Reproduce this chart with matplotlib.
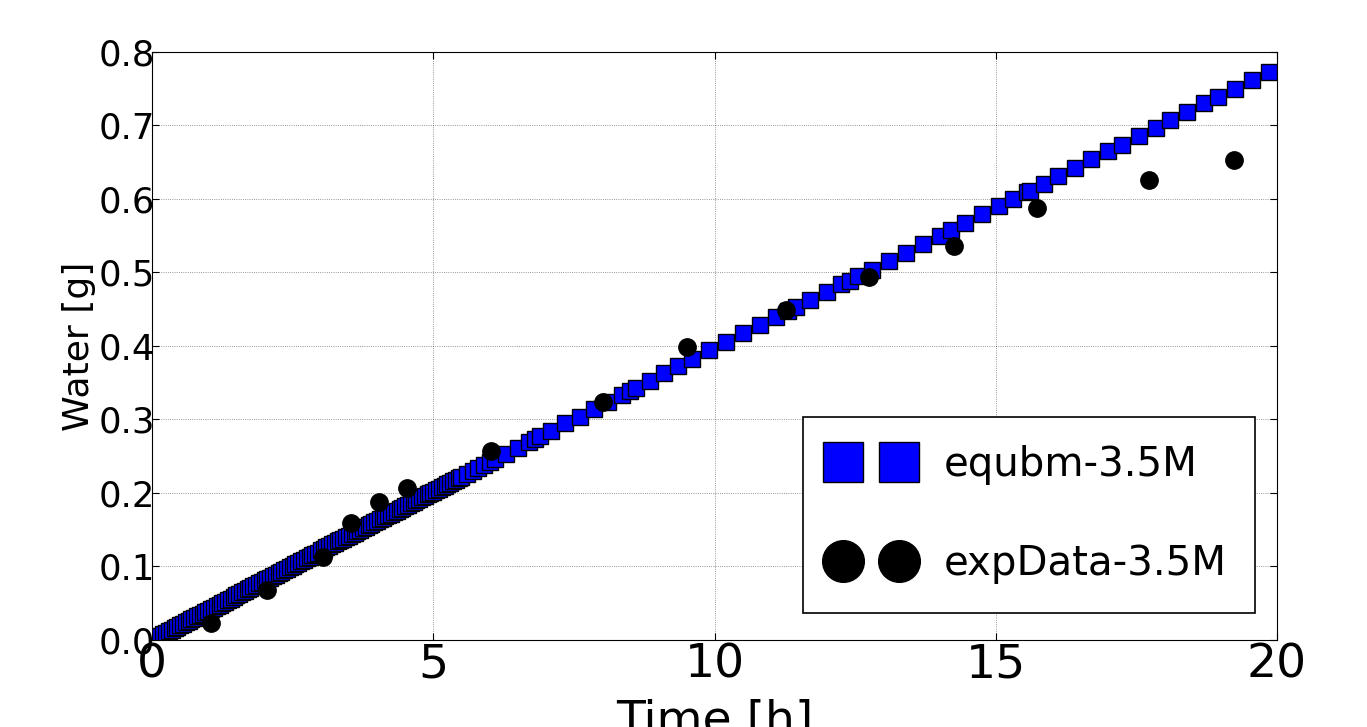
import matplotlib
matplotlib.use("Agg")
import matplotlib.pyplot as plt

# Simulation output (equbm-3.5M): dense output early, coarser later
sim_time_h = [
    0.00, 0.05, 0.10, 0.15, 0.20, 0.25, 0.30, 0.35, 0.40, 0.45,
    0.50, 0.55, 0.60, 0.65, 0.70, 0.75, 0.80, 0.85, 0.90, 0.95,
    1.00, 1.05, 1.10, 1.15, 1.20, 1.25, 1.30, 1.35, 1.40, 1.45,
    1.50, 1.55, 1.60, 1.65, 1.70, 1.75, 1.80, 1.85, 1.90, 1.95,
    2.00, 2.05, 2.10, 2.15, 2.20, 2.25, 2.30, 2.35, 2.40, 2.45,
    2.50, 2.55, 2.60, 2.65, 2.70, 2.75, 2.80, 2.85, 2.90, 2.95,
    3.00, 3.05, 3.10, 3.15, 3.20, 3.25, 3.30, 3.35, 3.40, 3.45,
    3.50, 3.55, 3.60, 3.65, 3.70, 3.75, 3.80, 3.85, 3.90, 3.95,
    4.00, 4.05, 4.10, 4.15, 4.20, 4.25, 4.30, 4.35, 4.40, 4.45,
    4.50, 4.55, 4.60, 4.65, 4.70, 4.75, 4.80, 4.85, 4.90, 4.95,
    5.00, 5.05, 5.10, 5.15, 5.20, 5.25, 5.30, 5.35, 5.40, 5.45,
    5.50, 5.60, 5.70, 5.80, 5.90, 6.00, 6.10,
    6.30, 6.50, 6.70, 6.80, 6.90, 7.10, 7.35, 7.60, 7.85, 8.10,
    8.35, 8.50, 8.60, 8.85, 9.10, 9.35, 9.60, 9.90, 10.20, 10.50,
    10.80, 11.10, 11.30, 11.45, 11.70, 12.00, 12.25, 12.40, 12.55, 12.80,
    13.10, 13.40, 13.70, 14.00, 14.20, 14.45, 14.75, 15.05, 15.30, 15.55,
    15.60, 15.85, 16.10, 16.40, 16.70, 17.00, 17.25, 17.55, 17.85, 18.10,
    18.40, 18.70, 18.95, 19.25, 19.55, 19.85,
]
sim_water_g = [
    0.000, 0.002, 0.004, 0.006, 0.008, 0.010, 0.012, 0.014, 0.016, 0.018,
    0.020, 0.022, 0.024, 0.026, 0.028, 0.030, 0.032, 0.034, 0.036, 0.038,
    0.040, 0.042, 0.044, 0.046, 0.048, 0.050, 0.052, 0.054, 0.056, 0.058,
    0.061, 0.063, 0.065, 0.067, 0.069, 0.071, 0.073, 0.075, 0.077, 0.079,
    0.081, 0.083, 0.085, 0.087, 0.089, 0.091, 0.093, 0.095, 0.097, 0.099,
    0.101, 0.103, 0.105, 0.107, 0.109, 0.111, 0.113, 0.115, 0.117, 0.119,
    0.122, 0.124, 0.126, 0.128, 0.130, 0.132, 0.134, 0.136, 0.138, 0.140,
    0.142, 0.144, 0.146, 0.148, 0.150, 0.152, 0.154, 0.156, 0.158, 0.160,
    0.162, 0.164, 0.166, 0.168, 0.170, 0.172, 0.174, 0.176, 0.178, 0.180,
    0.182, 0.184, 0.186, 0.188, 0.190, 0.192, 0.194, 0.196, 0.198, 0.200,
    0.202, 0.204, 0.206, 0.208, 0.210, 0.212, 0.214, 0.216, 0.218, 0.220,
    0.222, 0.226, 0.230, 0.234, 0.238, 0.242, 0.246,
    0.253, 0.261, 0.269, 0.273, 0.277, 0.285, 0.295, 0.304, 0.314, 0.324,
    0.333, 0.339, 0.343, 0.353, 0.363, 0.373, 0.382, 0.394, 0.406, 0.417,
    0.428, 0.440, 0.447, 0.453, 0.463, 0.474, 0.484, 0.489, 0.495, 0.504,
    0.516, 0.527, 0.539, 0.550, 0.558, 0.567, 0.579, 0.590, 0.600, 0.609,
    0.611, 0.621, 0.631, 0.642, 0.654, 0.665, 0.674, 0.686, 0.697, 0.707,
    0.718, 0.730, 0.739, 0.750, 0.762, 0.773,
]

# Measurements (expData-3.5M)
exp_time_h = [1.05, 2.04, 3.04, 3.54, 4.04, 4.53, 6.03, 8.02, 9.51,
              11.27, 12.75, 14.26, 15.73, 17.72, 19.24]
exp_water_g = [0.023, 0.068, 0.113, 0.159, 0.188, 0.207, 0.257, 0.324, 0.399,
               0.449, 0.494, 0.536, 0.588, 0.626, 0.653]

plt.rcParams["font.family"] = ["DejaVu Sans"]
plt.rcParams["xtick.direction"] = "in"
plt.rcParams["ytick.direction"] = "in"
plt.rcParams["xtick.top"] = True
plt.rcParams["ytick.right"] = True

fig = plt.figure(figsize=(13.67, 7.27), dpi=100)
ax = fig.add_axes([0.1112, 0.1197, 0.8230, 0.8088])

ax.plot(sim_time_h, sim_water_g, linestyle="none", marker="s", markersize=12,
        markerfacecolor="b", markeredgecolor="k", markeredgewidth=1.0,
        label="equbm-3.5M")
ax.plot(exp_time_h, exp_water_g, linestyle="none", marker="o", markersize=12.5,
        markerfacecolor="k", markeredgecolor="k", label="expData-3.5M")

ax.set_xlim(0, 20)
ax.set_ylim(0, 0.8)
ax.set_xticks([0, 5, 10, 15, 20])
ax.set_yticks([0.0, 0.1, 0.2, 0.3, 0.4, 0.5, 0.6, 0.7, 0.8])
ax.set_yticklabels(["0.0", "0.1", "0.2", "0.3", "0.4", "0.5", "0.6", "0.7", "0.8"])
ax.tick_params(axis="x", labelsize=34, pad=2, length=5)
ax.tick_params(axis="y", labelsize=25.5, pad=-2, length=5)
ax.grid(True, color="k", linestyle=":", linewidth=0.6, alpha=0.55)

ax.set_xlabel("Time [h]", fontsize=34, labelpad=8)
ax.set_ylabel("Water [g]", fontsize=26, labelpad=2)

leg = ax.legend(loc="lower right", bbox_to_anchor=(1.0, 0.009), numpoints=2,
                markerscale=2.4, fontsize=29,
                fancybox=False, framealpha=1.0, edgecolor="k",
                borderpad=0.7, labelspacing=1.48, handlelength=2.0,
                handletextpad=0.8, borderaxespad=0.55)
leg.get_frame().set_linewidth(1.2)

fig.savefig("out.png", dpi=100)
